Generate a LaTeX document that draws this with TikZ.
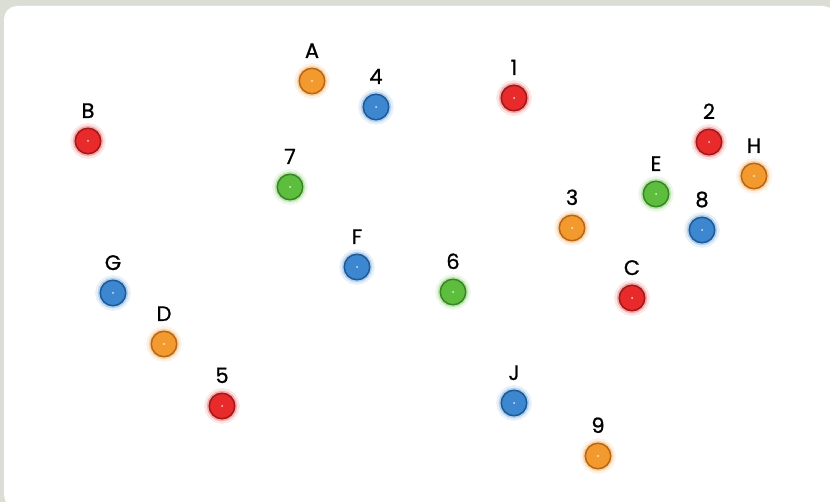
\documentclass[tikz,border=0pt]{standalone}
\usepackage{fontspec}
\setmainfont{Poppins}
\newfontfamily\tagfont{Poppins}[FakeBold=0.9]
\usepackage{tikz}
\usetikzlibrary{positioning}
\definecolor{frame}{HTML}{DADED5}
\definecolor{orng}{HTML}{F39A2E}
\definecolor{orngdk}{HTML}{B8661A}
\definecolor{blu}{HTML}{3C87CF}
\definecolor{bludk}{HTML}{1F5A96}
\definecolor{rd}{HTML}{E92A2B}
\definecolor{rddk}{HTML}{9E1A1C}
\definecolor{grn}{HTML}{5DBE3E}
\definecolor{grndk}{HTML}{3A8526}

\begin{document}
\begin{tikzpicture}[x=1pt,y=-1pt,
  tag/.style={font=\tagfont\fontsize{21}{24}\selectfont,inner sep=0pt,anchor=base},
  dot/.style={circle,minimum size=25.5pt,inner sep=0pt,fill=#1,draw=#1dk,line width=1.5pt,
    preaction={draw=#1,line width=10pt,draw opacity=0.12},
    preaction={draw=#1,line width=5pt,draw opacity=0.3}}]
  \useasboundingbox (0,0) rectangle (830,502);
  \fill[frame] (0,0) rectangle (830,502);
  \fill[white,rounded corners=13pt] (4,6) rectangle (836,508);
  \foreach \n/\x/\y/\c in {A/312/81/orng,4/376/107/blu,1/514/98/rd,B/88/141/rd,
      2/709/142/rd,H/754/176/orng,7/290/187/grn,E/656/194/grn,3/572/228/orng,
      8/702/230/blu,F/357/267/blu,G/113/293/blu,6/453/292/grn,C/632/298/rd,
      D/164/344/orng,5/222/406/rd,J/514/403/blu,9/598/456/orng} {
    \node[dot=\c] (d\n) at (\x,\y) {};
    \fill[white,opacity=0.8] (d\n.center) circle (1pt);
    \node[tag] (l\n) at (\x,{\y-23}) {\n};
  }
\end{tikzpicture}
\end{document}
